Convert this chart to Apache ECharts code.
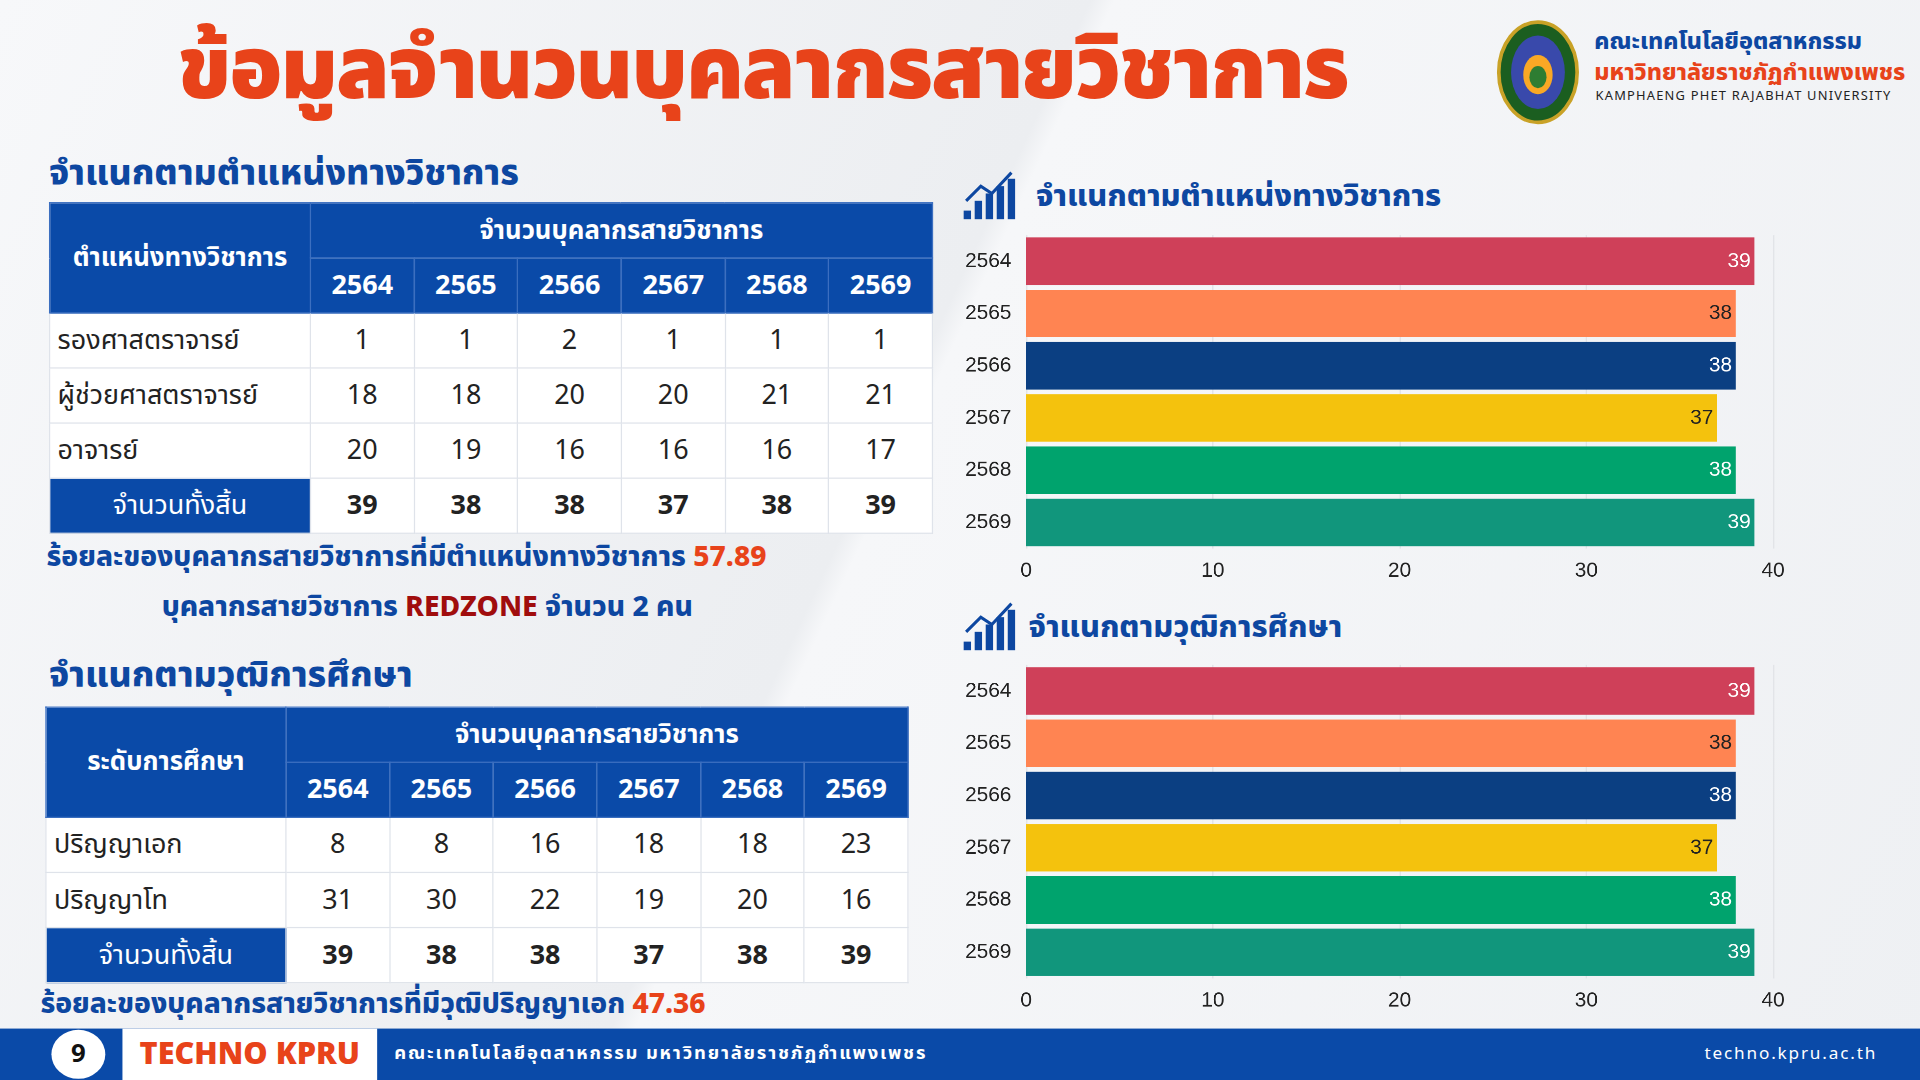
<!DOCTYPE html>
<html><head><meta charset="utf-8">
<script src="https://cdn.jsdelivr.net/npm/echarts@6/dist/echarts.min.js"></script>
<style>
html,body{margin:0;padding:0;width:1920px;height:1080px;overflow:hidden;}
#page{position:absolute;left:0;top:0;width:1568px;height:882px;transform:scale(1.22449);transform-origin:0 0;
 font-family:"Noto Sans Thai","Noto Sans","DejaVu Sans",sans-serif;
 background:linear-gradient(115deg,#f7f8fa 0%,#eceef1 45%,#f6f7f9 46%,#eef0f3 100%);overflow:hidden;}
.abs{position:absolute;}
h1{position:absolute;left:145px;top:5px;margin:0;font-size:71px;font-weight:900;color:#e8431a;letter-spacing:-1.5px;}
.h2{position:absolute;font-size:29px;font-weight:800;color:#0d47a1;}
table{position:absolute;border-collapse:collapse;background:#fff;}
td{border:1px solid #dfe3ea;text-align:center;font-size:22px;color:#222;height:44px;padding:0;}
td.l{text-align:left;padding-left:6px;}
th{background:#0a4aa8;color:#fff;font-size:21px;font-weight:700;border:1px solid #3c6fc0;padding:0;height:44px;}
tr.tot td{font-weight:700;}
tr.tot td.n{background:#0a4aa8;color:#fff;font-weight:400;}
.txt{position:absolute;font-size:23px;font-weight:800;color:#0d47a1;white-space:nowrap;}
.or{color:#e8431a}.rd{color:#a00d0d}
#foot{position:absolute;left:0;top:840px;width:1568px;height:42px;background:#0a4aa8;}
</style></head><body>
<div id="page">
<h1>ข้อมูลจำนวนบุคลากรสายวิชาการ</h1>
<svg class="abs" style="left:1222px;top:16px" width="68" height="86"><ellipse cx="34" cy="43" rx="32" ry="41" fill="#1b5e20" stroke="#c9a227" stroke-width="3"/><ellipse cx="34" cy="43" rx="22" ry="30" fill="#3949ab"/><ellipse cx="34" cy="45" rx="12" ry="16" fill="#f9a825"/><ellipse cx="34" cy="47" rx="7" ry="9" fill="#2e7d32"/></svg>
<div class="abs" style="left:1302px;top:20px;font-size:19px;font-weight:800;color:#0d47a1">คณะเทคโนโลยีอุตสาหกรรม</div>
<div class="abs" style="left:1302px;top:45px;font-size:19px;font-weight:800;color:#e8431a">มหาวิทยาลัยราชภัฏกำแพงเพชร</div>
<div class="abs" style="left:1303px;top:71px;font-size:10.5px;color:#222;letter-spacing:1px">KAMPHAENG PHET RAJABHAT UNIVERSITY</div>

<div class="h2" style="left:40px;top:120px">จำแนกตามตำแหน่งทางวิชาการ</div>
<table id="t1" style="left:40px;top:165px;width:722px"></table>
<div class="txt" style="left:38px;top:438px">ร้อยละของบุคลากรสายวิชาการที่มีตำแหน่งทางวิชาการ <span class="or">57.89</span></div>
<div class="txt" style="left:132px;top:479px">บุคลากรสายวิชาการ <span class="rd">REDZONE</span> จำนวน 2 คน</div>
<div class="h2" style="left:40px;top:530px">จำแนกตามวุฒิการศึกษา</div>
<table id="t2" style="left:37px;top:577px;width:705px"></table>
<div class="txt" style="left:33px;top:803px">ร้อยละของบุคลากรสายวิชาการที่มีวุฒิปริญญาเอก <span class="or">47.36</span></div>

<svg class="abs" style="left:786px;top:138px" width="46" height="42"><g fill="#0d47a1"><rect x="1" y="34" width="6" height="7"/><rect x="10" y="26" width="6" height="15"/><rect x="19" y="20" width="6" height="21"/><rect x="28" y="14" width="6" height="27"/><rect x="37" y="8" width="6" height="33"/></g><polyline points="3,26 15,14 24,20 40,3" stroke="#0d47a1" stroke-width="2.5" fill="none"/></svg>
<div class="h2" style="left:846px;top:141px;font-size:25px">จำแนกตามตำแหน่งทางวิชาการ</div>
<svg class="abs" style="left:786px;top:490px" width="46" height="42"><g fill="#0d47a1"><rect x="1" y="34" width="6" height="7"/><rect x="10" y="26" width="6" height="15"/><rect x="19" y="20" width="6" height="21"/><rect x="28" y="14" width="6" height="27"/><rect x="37" y="8" width="6" height="33"/></g><polyline points="3,26 15,14 24,20 40,3" stroke="#0d47a1" stroke-width="2.5" fill="none"/></svg>
<div class="h2" style="left:840px;top:493px;font-size:25px">จำแนกตามวุฒิการศึกษา</div>
<div id="c1" class="abs" style="left:770px;top:185px;width:720px;height:300px"></div>
<div id="c2" class="abs" style="left:770px;top:536px;width:720px;height:300px"></div>

<div id="foot">
 <div class="abs" style="left:42px;top:1px;width:44px;height:40px;border-radius:50%;background:#fff;color:#111;font-size:21px;font-weight:700;text-align:center;line-height:40px">9</div>
 <div class="abs" style="left:100px;top:0;width:208px;height:42px;background:#fff;color:#e8431a;font-size:25px;font-weight:900;text-align:center;line-height:42px">TECHNO KPRU</div>
 <div class="abs" style="left:322px;top:9px;color:#fff;font-size:15px;font-weight:700;letter-spacing:1.5px">คณะเทคโนโลยีอุตสาหกรรม  มหาวิทยาลัยราชภัฏกำแพงเพชร</div>
 <div class="abs" style="left:1392px;top:10px;color:#fff;font-size:14px;letter-spacing:1.5px">techno.kpru.ac.th</div>
</div>
</div>
<script>
var years = ['2564','2565','2566','2567','2568','2569'];
var rankLabels = ['รองศาสตราจารย์','ผู้ช่วยศาสตราจารย์','อาจารย์'];
var rankAssoc = [1,1,2,1,1,1];
var rankAssist = [18,18,20,20,21,21];
var rankLecturer = [20,19,16,16,16,17];
var eduLabels = ['ปริญญาเอก','ปริญญาโท'];
var eduPhd = [8,8,16,18,18,23];
var eduMaster = [31,30,22,19,20,16];
var totals = [39,38,38,37,38,39];
var barColors = ['#cf4059','#ff8452','#0b3f82','#f4c20d','#00a36d','#11967c'];
var labelColors = ['#fff','#222','#fff','#222','#fff','#fff'];

function buildTable(id, head, labels, rows, firstW){
  var h = '<tr><th rowspan="2" style="width:'+firstW+'px">'+head+'</th><th colspan="6">จำนวนบุคลากรสายวิชาการ</th></tr><tr>';
  years.forEach(function(y){ h += '<th style="font-size:22px">'+y+'</th>'; });
  h += '</tr>';
  rows.forEach(function(r,i){
    h += '<tr><td class="l">'+labels[i]+'</td>';
    r.forEach(function(v){ h += '<td>'+v+'</td>'; });
    h += '</tr>';
  });
  h += '<tr class="tot"><td class="n">จำนวนทั้งสิ้น</td>';
  totals.forEach(function(v){ h += '<td>'+v+'</td>'; });
  document.getElementById(id).innerHTML = h + '</tr>';
}
buildTable('t1','ตำแหน่งทางวิชาการ',rankLabels,[rankAssoc,rankAssist,rankLecturer],212);
buildTable('t2','ระดับการศึกษา',eduLabels,[eduPhd,eduMaster],195);

function drawBars(id){
  var chart = echarts.init(document.getElementById(id), null, {devicePixelRatio:2.5});
  chart.setOption({
    animation:false,
    grid:{left:68,top:7,width:610,height:256},
    xAxis:{type:'value',min:0,max:40,interval:10,
      axisLabel:{fontSize:17,color:'#222',margin:10},
      splitLine:{lineStyle:{color:'#e2e4e8'}},axisLine:{show:false},axisTick:{show:false}},
    yAxis:{type:'category',data:years,inverse:true,
      axisLabel:{fontSize:17,color:'#222',margin:12},
      axisLine:{show:false},axisTick:{show:false}},
    series:[{type:'bar',barCategoryGap:'9%',
      data:totals.map(function(v,i){
        return {value:v,itemStyle:{color:barColors[i]},label:{color:labelColors[i]}};
      }),
      label:{show:true,position:'insideRight',fontSize:17,offset:[2,0]}}]
  });
}
drawBars('c1');
drawBars('c2');
</script>
</body></html>
